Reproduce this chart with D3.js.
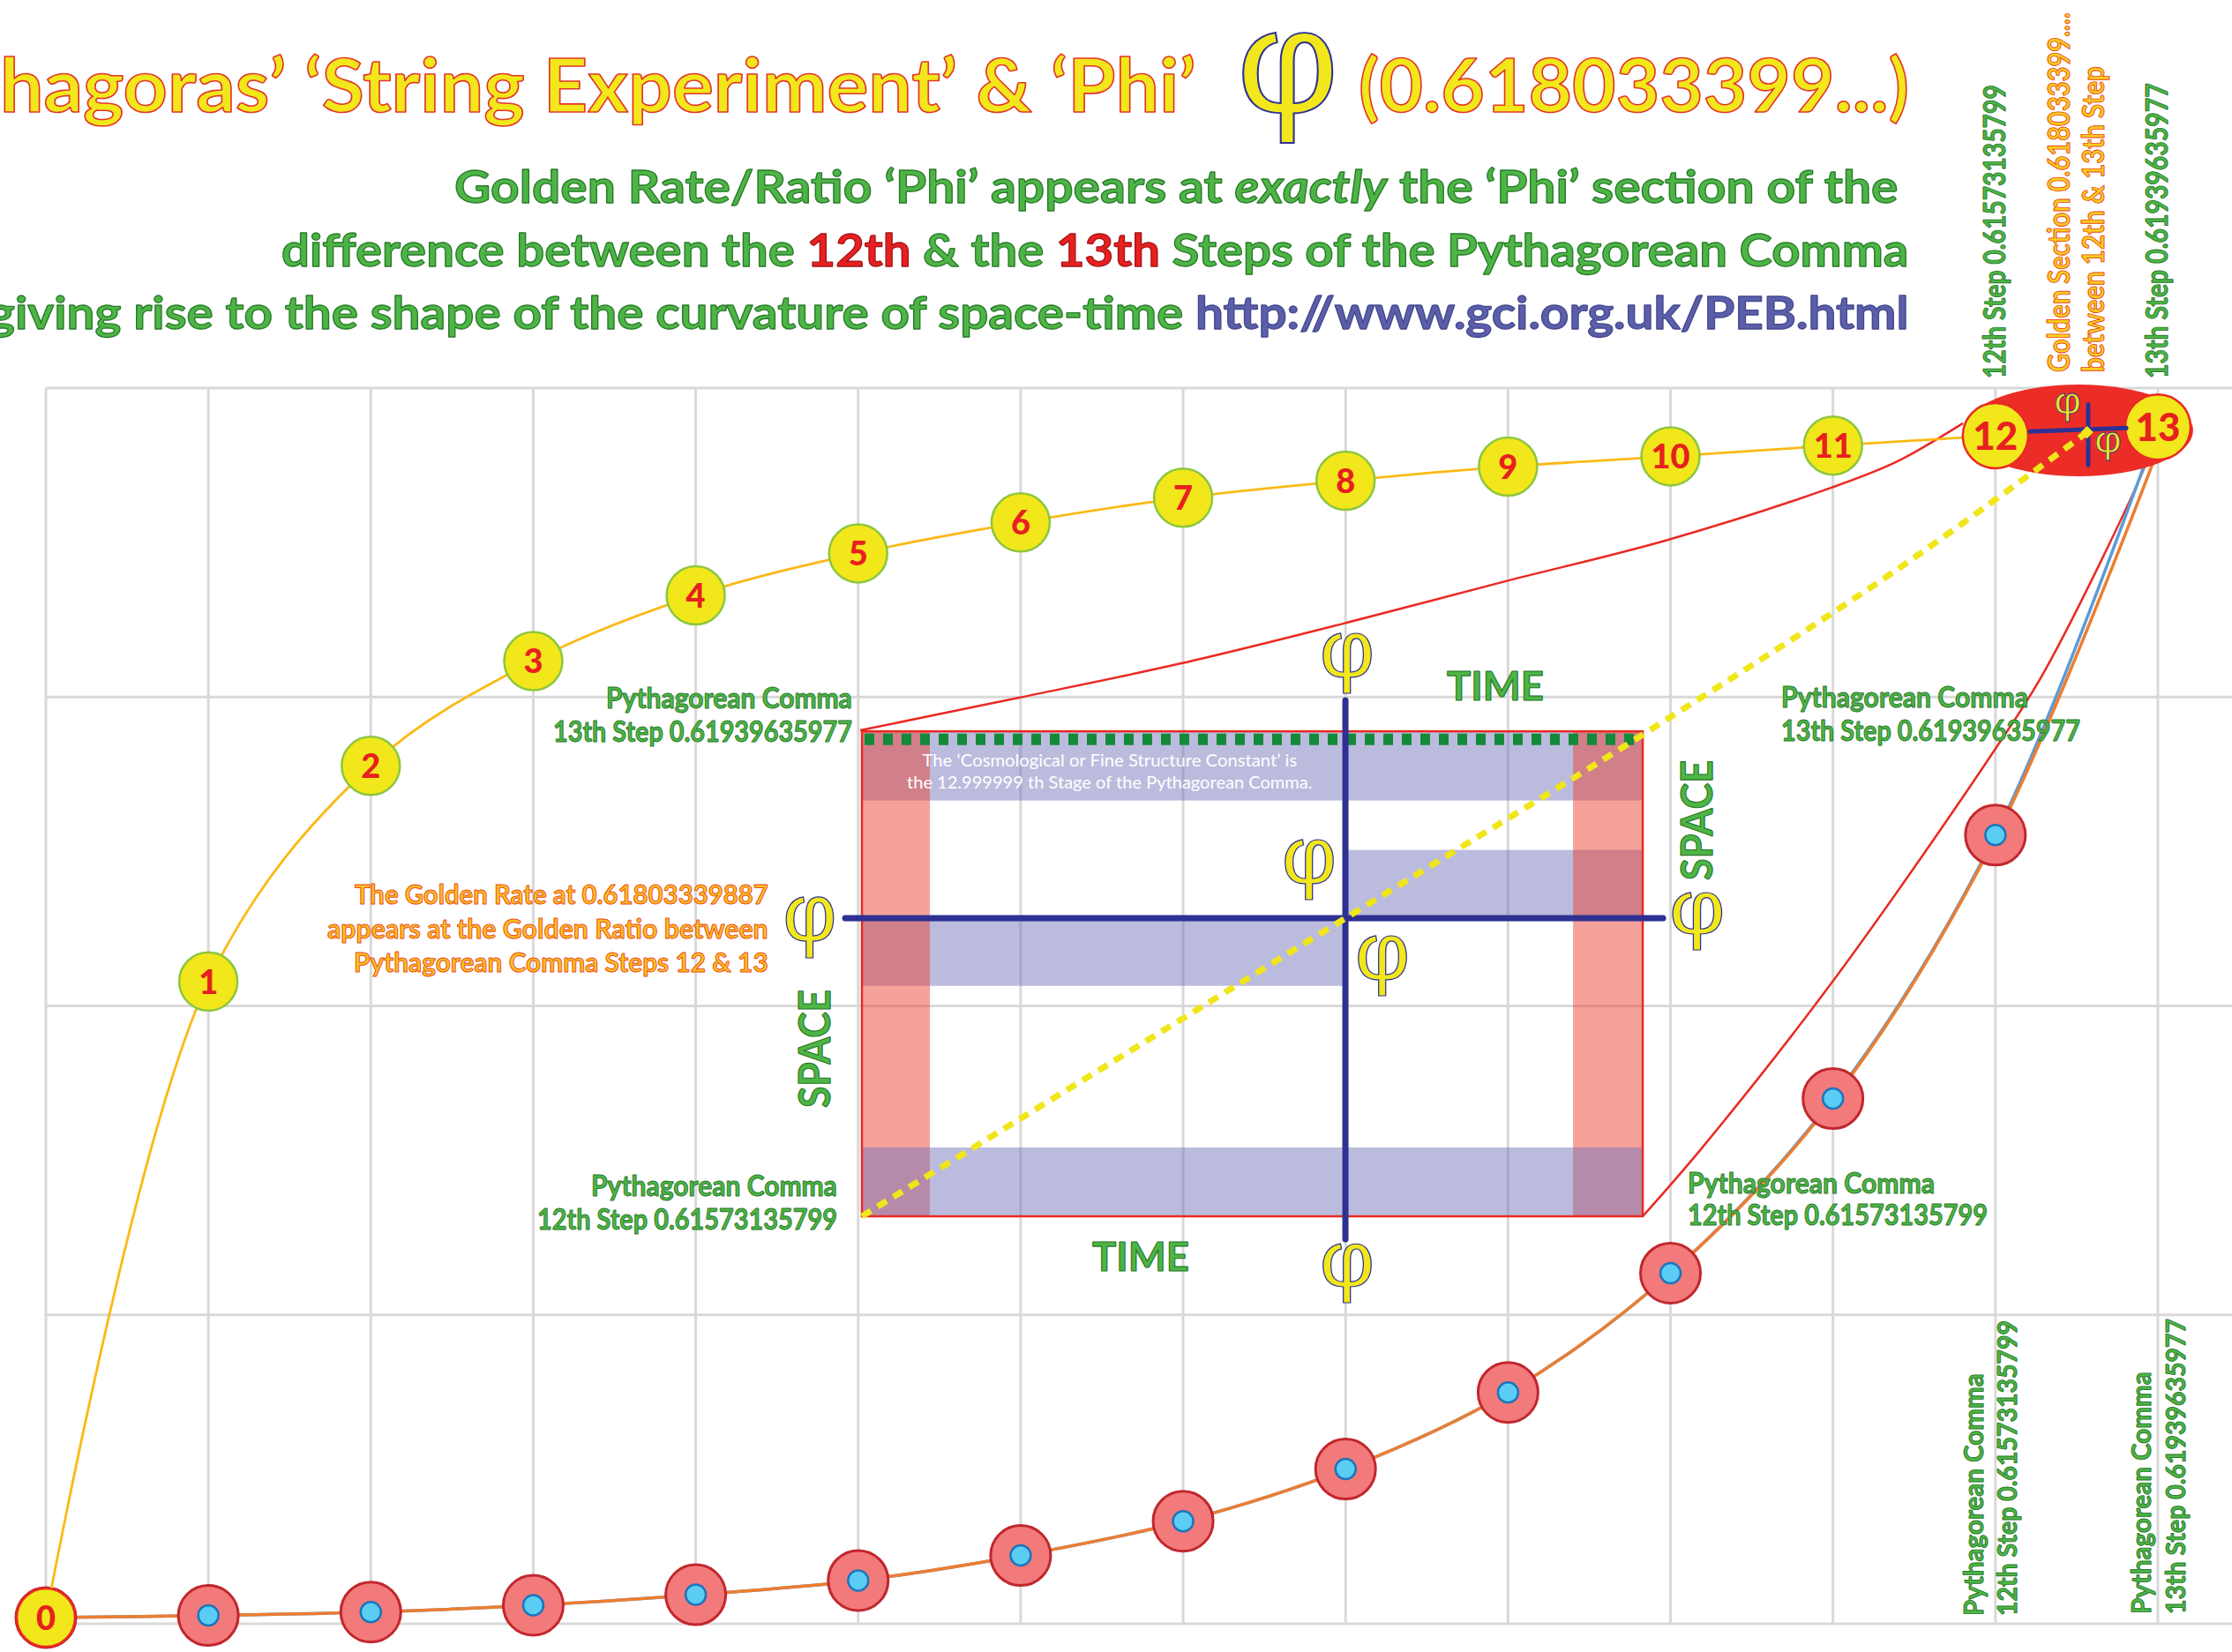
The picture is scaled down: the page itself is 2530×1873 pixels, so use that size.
<!DOCTYPE html>
<html><head><meta charset="utf-8">
<script src="https://cdn.jsdelivr.net/npm/d3@7"></script>
<style>html,body{margin:0;padding:0;background:#fff;overflow:hidden}</style>
</head><body><svg id="chart" width="2530" height="1873" xmlns="http://www.w3.org/2000/svg"></svg>
<script>
// ---------------- DATA ----------------
const steps = [0,1,2,3,4,5,6,7,8,9,10,11,12,13];
const stepLabels = ["0","1","2","3","4","5","6","7","8","9","10","11","12","13"];
const yTicks = [0,1,2,3,4];
const stringSeries = [0.02, 2.079, 2.777, 3.116, 3.329, 3.465, 3.565, 3.645, 3.700, 3.746, 3.779, 3.814, 3.846, 3.874];
const commaBlue    = [0.02, 0.027, 0.038, 0.060, 0.094, 0.140, 0.221, 0.332, 0.501, 0.749, 1.135, 1.700, 2.553, 3.874];
const commaOrange  = [0.02, 0.027, 0.038, 0.060, 0.094, 0.140, 0.221, 0.332, 0.501, 0.749, 1.135, 1.695, 2.545, 3.800];
const topRedLine   = [[5.012,2.892],[5.990,2.998],[6.989,3.109],[7.988,3.238],[8.987,3.375],[9.986,3.509],[10.986,3.677],[11.393,3.762],[11.80,3.886]];
const rightRedLine = [[9.829,1.319],[10.201,1.545],[11.005,2.084],[12.007,2.838],[12.305,3.086],[12.924,3.752],[12.97,3.83]];
const goldenDiagonal = [[5.023,1.319],[7.999,2.284],[9.829,2.878],[11.393,3.412],[12.564,3.857]];
const boxX = [5.023, 9.829];
const boxY = [1.319, 2.889];
const crossPoint = [7.999, 2.284];
const crossVSpan = [1.245, 2.989];
const crossHSpan = [4.920, 9.954];
const lavenderBands = [[5.023,9.829,2.665,2.889],[7.999,9.829,2.284,2.505],[5.023,7.999,2.065,2.284]];
const pinkBands = [[5.023,5.441,1.319,2.889],[9.400,9.829,1.319,2.889]];
const bottomBand = [5.023,9.829,1.319,1.542];
const goldenPoint = [12.564, 3.857];
const ellipseCenter = [12.511, 3.863];
const miniCrossH = [12.213, 12.805, 3.865];
const miniCrossV = [12.571, 3.751, 3.947];

const titleText = ["Pythagoras’ ‘String Experiment’ & ‘Phi’", "φ", "(0.618033399...)"];
const subtitle1 = ["Golden Rate/Ratio ‘Phi’ appears at ", "exactly", " the ‘Phi’ section of the"];
const subtitle2 = ["difference between the ", "12th", " & the ", "13th", " Steps of the Pythagorean Comma"];
const subtitle3 = ["giving rise to the shape of the curvature of space-time ", "http://www.gci.org.uk/PEB.html"];
const step12Text = ["Pythagorean Comma", "12th Step 0.61573135799"];
const step13Text = ["Pythagorean Comma", "13th Step 0.61939635977"];
const goldenRateText = ["The Golden Rate at 0.61803339887", "appears at the Golden Ratio between", "Pythagorean Comma Steps 12 & 13"];
const topVerticals = ["12th Step 0.61573135799", "Golden Section 0.618033399....", "between 12th & 13th Step", "13th Step 0.61939635977"];
const boxNote = ["The ‘Cosmological or Fine Structure Constant’ is", "the 12.999999 th Stage of the Pythagorean Comma."];
const axisWords = ["TIME", "SPACE"];

// ---------------- SETUP ----------------
const FONT = "Lato, 'Open Sans', 'DejaVu Sans', sans-serif";
const PHI_FONT = "'Liberation Sans', 'DejaVu Sans', sans-serif";
const svg = d3.select("#chart");
const x = d3.scaleLinear().domain([0,13]).range([52, 2446]);
const y = d3.scaleLinear().domain([0,4]).range([1841, 440]);

const GREEN = "#4db545", GREEN_D = "#2a7a2c";
const YEL = "#f1e71b", RED = "#ea2a24";

function label(parent, parts, o) {
  const g = parent.append("g");
  const t = g.append("text")
    .attr("font-family", o.font || FONT)
    .attr("font-size", o.size)
    .attr("font-weight", o.weight || 700)
    .attr("fill", o.fill || "#000")
    .attr("x", 0).attr("y", 0);
  if (o.stroke) t.attr("stroke", o.stroke).attr("stroke-width", o.sw || 1).attr("stroke-linejoin", "round");
  (typeof parts === "string" ? [{t: parts}] : parts).forEach(p => {
    const s = t.append("tspan").text(p.t);
    if (p.fill) s.attr("fill", p.fill);
    if (p.stroke) s.attr("stroke", p.stroke);
    if (p.italic) s.attr("font-style", "italic");
  });
  const node = t.node();
  const full = node.getComputedTextLength();
  const pre = o.cut ? node.getSubStringLength(0, o.cut) : 0;
  const vis = full - pre;
  const k = o.width ? o.width / vis : 1;
  if (o.rotate) {
    g.attr("transform", `translate(${o.x},${o.y}) rotate(-90) scale(${k},1)`);
  } else {
    let x0 = o.x;
    if (o.anchor === "end") x0 = o.x - vis * k;
    else if (o.anchor === "middle") x0 = o.x - vis * k / 2;
    g.attr("transform", `translate(${x0 - pre * k},${o.y}) scale(${k},1)`);
  }
  return g;
}

const cctx = document.createElement("canvas").getContext("2d");
function phi(parent, cx, cy, w, h, sw) {
  cctx.font = "400 100px " + PHI_FONT;
  const m = cctx.measureText(titleText[1]);
  const L = m.actualBoundingBoxLeft, R = m.actualBoundingBoxRight;
  const A = m.actualBoundingBoxAscent, D = m.actualBoundingBoxDescent;
  const gw = L + R, gh = A + D;
  const sx = w / gw, sy = h / gh;
  const g = parent.append("g").attr("transform", `translate(${cx},${cy}) scale(${sx},${sy})`);
  g.append("text").attr("font-family", PHI_FONT).attr("font-size", 100)
    .attr("x", -(R - L) / 2).attr("y", A - gh / 2)
    .attr("fill", YEL).attr("stroke", "#2e3192").attr("stroke-width", (sw || 1.2) / Math.sqrt(sx * sy))
    .text(titleText[1]);
}

// ---------------- GRID ----------------
const grid = svg.append("g");
grid.append("g").selectAll("line").data(steps).join("line")
  .attr("x1", d => x(d)).attr("x2", d => x(d)).attr("y1", y(4)).attr("y2", y(0))
  .attr("stroke", "#d9d9d9").attr("stroke-width", 3);
grid.append("g").selectAll("line").data(yTicks).join("line")
  .attr("x1", x(0)).attr("x2", 2530).attr("y1", d => y(d)).attr("y2", d => y(d))
  .attr("stroke", "#d9d9d9").attr("stroke-width", 3);

// ---------------- BOX ----------------
const box = svg.append("g");
const band = (sel, b, fill) => sel.append("rect")
  .attr("x", x(b[0])).attr("width", x(b[1]) - x(b[0]))
  .attr("y", y(b[3])).attr("height", y(b[2]) - y(b[3])).attr("fill", fill);
lavenderBands.forEach(b => band(box, b, "rgba(113,115,184,0.48)"));
pinkBands.forEach(b => band(box, b, "rgba(234,61,47,0.48)"));
band(box, bottomBand, "rgba(113,115,184,0.48)");
box.append("rect").attr("x", x(boxX[0])).attr("y", y(boxY[1]))
  .attr("width", x(boxX[1]) - x(boxX[0])).attr("height", y(boxY[0]) - y(boxY[1]))
  .attr("fill", "none").attr("stroke", RED).attr("stroke-width", 2.5);
box.append("line").attr("x1", x(boxX[0]) + 3).attr("x2", x(boxX[1]) - 2)
  .attr("y1", y(boxY[1]) + 9).attr("y2", y(boxY[1]) + 9)
  .attr("stroke", "#13893a").attr("stroke-width", 13).attr("stroke-dasharray", "11 10");

// ---------------- RED CONNECTING LINES ----------------
const lineXY = d3.line().x(d => x(d[0])).y(d => y(d[1])).curve(d3.curveCatmullRom);
svg.append("path").attr("d", lineXY(topRedLine)).attr("fill", "none").attr("stroke", RED).attr("stroke-width", 2.5);
svg.append("path").attr("d", lineXY(rightRedLine)).attr("fill", "none").attr("stroke", RED).attr("stroke-width", 2.5);

// ---------------- BLUE CROSS ----------------
svg.append("line").attr("x1", x(crossPoint[0])).attr("x2", x(crossPoint[0]))
  .attr("y1", y(crossVSpan[1])).attr("y2", y(crossVSpan[0]))
  .attr("stroke", "#2e3192").attr("stroke-width", 7).attr("stroke-linecap", "round");
svg.append("line").attr("y1", y(crossPoint[1])).attr("y2", y(crossPoint[1]))
  .attr("x1", x(crossHSpan[0])).attr("x2", x(crossHSpan[1]))
  .attr("stroke", "#2e3192").attr("stroke-width", 7).attr("stroke-linecap", "round");

// ---------------- BOTTOM SERIES ----------------
const lineS = arr => d3.line().x((d, i) => x(steps[i])).y(d => y(d)).curve(d3.curveCatmullRom)(arr);
svg.append("path").attr("d", lineS(commaBlue)).attr("fill", "none").attr("stroke", "#5b9bd5").attr("stroke-width", 3.5);
svg.append("path").attr("d", lineS(commaOrange)).attr("fill", "none").attr("stroke", "#ed7d31").attr("stroke-width", 3.5);
const mk = svg.append("g");
mk.selectAll("circle.r").data(commaBlue.slice(0, 13)).join("circle").attr("class", "r")
  .attr("cx", (d, i) => x(steps[i])).attr("cy", d => y(d)).attr("r", 34)
  .attr("fill", "#f27a7a").attr("stroke", "#c1272d").attr("stroke-width", 3);
mk.selectAll("circle.b").data(commaBlue.slice(0, 13)).join("circle").attr("class", "b")
  .attr("cx", (d, i) => x(steps[i])).attr("cy", d => y(d)).attr("r", 11.5)
  .attr("fill", "#5bcdf5").attr("stroke", "#1c75bc").attr("stroke-width", 2.5);

// ---------------- STRING SERIES ----------------
svg.append("path").attr("d", lineS(stringSeries)).attr("fill", "none").attr("stroke", "#fbb917").attr("stroke-width", 2.8);

// ellipse between 12 & 13
svg.append("ellipse").attr("cx", x(ellipseCenter[0])).attr("cy", y(ellipseCenter[1]))
  .attr("rx", 130).attr("ry", 52).attr("fill", "#ec2d27");

// golden diagonal (dotted)
svg.append("path").attr("d", lineXY(goldenDiagonal)).attr("fill", "none")
  .attr("stroke", "#f0e61a").attr("stroke-width", 7).attr("stroke-dasharray", "12 9");

// yellow circles
const yc = svg.append("g");
const big = i => i === 12 || i === 13;
yc.selectAll("circle").data(stringSeries).join("circle")
  .attr("cx", (d, i) => x(steps[i])).attr("cy", d => y(d)).attr("r", (d, i) => big(i) ? 37 : 33)
  .attr("fill", YEL)
  .attr("stroke", (d, i) => (i === 0 || big(i)) ? RED : "#8cc63f").attr("stroke-width", 2.5);
yc.selectAll("text").data(stringSeries).join("text")
  .attr("x", (d, i) => x(steps[i])).attr("y", d => y(d)).attr("dy", "0.36em")
  .attr("text-anchor", "middle").attr("font-family", FONT).attr("font-weight", 900)
  .attr("font-size", (d, i) => big(i) ? 44 : 38).attr("fill", "#e8201f")
  .text((d, i) => stepLabels[i]);

// mini cross inside ellipse
svg.append("line").attr("x1", x(miniCrossH[0])).attr("x2", x(miniCrossH[1]))
  .attr("y1", y(miniCrossH[2]) + 2).attr("y2", y(miniCrossH[2]) - 2)
  .attr("stroke", "#2e3192").attr("stroke-width", 5).attr("stroke-linecap", "round");
svg.append("line").attr("x1", x(miniCrossV[0])).attr("x2", x(miniCrossV[0]))
  .attr("y1", y(miniCrossV[1])).attr("y2", y(miniCrossV[2]))
  .attr("stroke", "#2e3192").attr("stroke-width", 5).attr("stroke-linecap", "round");
svg.append("rect").attr("x", -5).attr("y", -5).attr("width", 10).attr("height", 10)
  .attr("fill", YEL).attr("transform", `translate(${x(goldenPoint[0])},${y(goldenPoint[1])}) rotate(45)`);

// ---------------- PHI GLYPHS ----------------
phi(svg, 1460, 98.5, 102, 127, 2);
phi(svg, 1527, 752, 55, 69);
phi(svg, 1484, 986, 55, 69);
phi(svg, 1567, 1095, 55, 69);
phi(svg, 1527, 1444, 55, 67);
phi(svg, 918, 1051, 54, 70);
phi(svg, 1924, 1044, 56, 66);
phi(svg, 2343.6, 462, 27, 32.5, 0.8);
phi(svg, 2389.5, 506, 27, 32.5, 0.8);

// ---------------- TEXT ----------------
const T = svg.append("g");
// title (left end is cropped by the page edge, as in the reference)
label(T, titleText[0], {x: 0, y: 127, size: 84, width: 1356, cut: 3, fill: YEL, stroke: "#e5352a", sw: 1.6});
label(T, titleText[2], {x: 1540, y: 127, size: 84, width: 624, fill: YEL, stroke: "#e5352a", sw: 1.6});
// subtitles
label(T, [{t: subtitle1[0]}, {t: subtitle1[1], italic: true}, {t: subtitle1[2]}],
  {x: 515, y: 230, size: 52, width: 1637, fill: GREEN, stroke: GREEN_D, sw: 1.3});
label(T, [{t: subtitle2[0]}, {t: subtitle2[1], fill: "#e8201f", stroke: "#a3161a"}, {t: subtitle2[2]},
  {t: subtitle2[3], fill: "#e8201f", stroke: "#a3161a"}, {t: subtitle2[4]}],
  {x: 319, y: 302, size: 52, width: 1845, fill: GREEN, stroke: GREEN_D, sw: 1.3});
label(T, [{t: subtitle3[0]}, {t: subtitle3[1], fill: "#5b5fa9", stroke: "#45488f"}],
  {x: -13, y: 373, size: 52, width: 2177, fill: GREEN, stroke: GREEN_D, sw: 1.3});

// top-right vertical labels
label(T, topVerticals[0], {x: 2273, y: 429, rotate: true, size: 34, width: 333, fill: GREEN, stroke: GREEN_D, sw: 1});
label(T, topVerticals[1], {x: 2346, y: 422, rotate: true, size: 34, width: 408, fill: "#f5d01c", stroke: "#ef4b23", sw: 1});
label(T, topVerticals[2], {x: 2385, y: 422, rotate: true, size: 34, width: 347, fill: "#f5d01c", stroke: "#ef4b23", sw: 1});
label(T, topVerticals[3], {x: 2457, y: 429, rotate: true, size: 34, width: 335, fill: GREEN, stroke: GREEN_D, sw: 1});

// bottom-right vertical labels
label(T, step12Text[0], {x: 2248, y: 1832, rotate: true, size: 31, width: 275, fill: GREEN, stroke: GREEN_D, sw: 1});
label(T, step12Text[1], {x: 2286, y: 1832, rotate: true, size: 31, width: 335, fill: GREEN, stroke: GREEN_D, sw: 1});
label(T, step13Text[0], {x: 2438, y: 1830, rotate: true, size: 31, width: 275, fill: GREEN, stroke: GREEN_D, sw: 1});
label(T, step13Text[1], {x: 2477, y: 1830, rotate: true, size: 31, width: 335, fill: GREEN, stroke: GREEN_D, sw: 1});

// labels around the box
const gOpt = (xx, yy, w, anchor) => ({x: xx, y: yy, size: 32, width: w, anchor, fill: GREEN, stroke: GREEN_D, sw: 1});
label(T, step13Text[0], gOpt(966, 803, 279, "end"));
label(T, step13Text[1], gOpt(966, 841, 339, "end"));
label(T, step12Text[0], gOpt(949, 1356, 279, "end"));
label(T, step12Text[1], gOpt(949, 1394, 340, "end"));
label(T, step13Text[0], gOpt(2019, 802, 280, "start"));
label(T, step13Text[1], gOpt(2019, 840, 339, "start"));
label(T, step12Text[0], gOpt(1913, 1353, 280, "start"));
label(T, step12Text[1], gOpt(1913, 1389, 340, "start"));

const oOpt = (yy, w) => ({x: 871, y: yy, size: 31, width: w, anchor: "end", fill: "#f7c41d", stroke: "#ef4b23", sw: 1});
label(T, goldenRateText[0], oOpt(1024.5, 469));
label(T, goldenRateText[1], oOpt(1063.5, 500));
label(T, goldenRateText[2], oOpt(1102, 470));

// TIME / SPACE
label(T, axisWords[0], {x: 1640, y: 794, size: 46, width: 110, fill: GREEN, stroke: GREEN_D, sw: 1.2});
label(T, axisWords[0], {x: 1238, y: 1441, size: 46, width: 110, fill: GREEN, stroke: GREEN_D, sw: 1.2});
label(T, axisWords[1], {x: 941, y: 1256, rotate: true, size: 49, width: 134, fill: GREEN, stroke: GREEN_D, sw: 1.2});
label(T, axisWords[1], {x: 1941, y: 998, rotate: true, size: 49, width: 136, fill: GREEN, stroke: GREEN_D, sw: 1.2});

// white note inside box
label(T, boxNote[0], {x: 1258, y: 869, size: 20, weight: 400, width: 425, anchor: "middle", fill: "#ffffff"});
label(T, boxNote[1], {x: 1258, y: 894, size: 20, weight: 400, width: 460, anchor: "middle", fill: "#ffffff"});
</script>
</body></html>
